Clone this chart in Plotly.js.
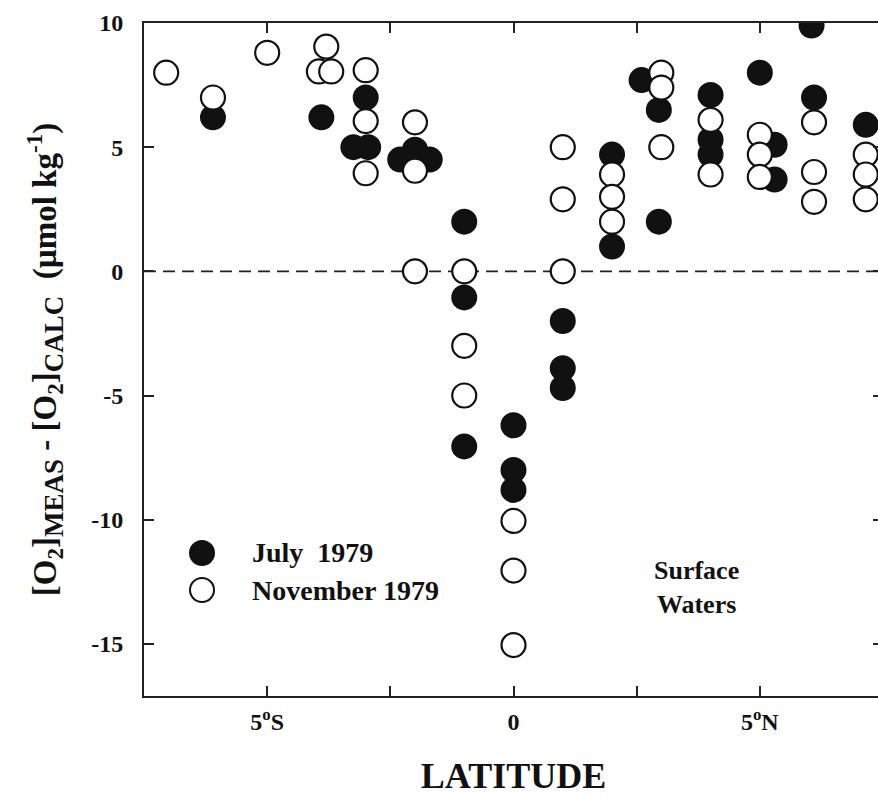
<!DOCTYPE html>
<html>
<head>
<meta charset="utf-8">
<script src="https://cdn.plot.ly/plotly-3.0.1.min.js"></script>
<style>
  html, body { margin: 0; padding: 0; background: #fff; overflow: hidden; }
  #chart { width: 886px; height: 797px; }
</style>
</head>
<body>
<div id="chart"></div>
<script>
// Surface-water oxygen anomaly across the equator, two cruises
const julyLat = [-6.1, -3.9, -3.0, -3.25, -2.95, -2.3, -2.0, -1.7, -1.0, -1.0, -1.0,
                 0, 0, 0, 1.0, 1.0, 1.0, 2.0, 2.0, 2.6, 2.95, 2.95,
                 4.0, 4.0, 4.0, 5.0, 5.3, 5.3, 6.05, 6.1, 7.15];
const julyO2  = [6.2, 6.2, 7.0, 5.0, 5.0, 4.5, 4.9, 4.5, 2.0, -1.05, -7.05,
                 -6.2, -8.0, -8.8, -2.0, -3.9, -4.7, 4.7, 1.0, 7.7, 6.5, 2.0,
                 7.1, 5.3, 4.7, 8.0, 5.1, 3.7, 9.9, 7.0, 5.9];

const novLat = [-7.05, -6.1, -5.0, -3.8, -3.95, -3.7, -3.0, -3.0, -3.0, -2.0, -2.0, -2.0,
                -1.0, -1.0, -1.0, 0, 0, 0, 1.0, 1.0, 1.0, 2.0, 2.0, 2.0,
                3.0, 3.0, 3.0, 4.0, 4.0, 5.0, 5.0, 5.0, 6.1, 6.1, 6.1, 7.15, 7.15, 7.15];
const novO2  = [8.0, 7.0, 8.8, 9.05, 8.05, 8.05, 8.1, 6.05, 3.95, 6.0, 4.05, 0,
                0, -3.0, -5.0, -10.05, -12.05, -15.05, 5.0, 2.9, 0, 3.9, 3.0, 2.0,
                8.0, 7.4, 5.0, 6.1, 3.9, 5.5, 4.7, 3.8, 6.0, 4.0, 2.8, 4.7, 3.9, 2.9];

const xTickVals = [-5, 0, 5];
const xTickText = ['5<sup>o</sup>S', '0', '5<sup>o</sup>N'];
const xMinorVals = [-2.5, 2.5];
const yTickVals = [-15, -10, -5, 0, 5, 10];
const yTickText = ['-15', '-10', '-5', '0', '5', '10'];

const seriesNames = ['July  1979', 'November 1979'];

const SERIF = '"Liberation Serif", "Times New Roman", Times, serif';
const INK = '#111';
const MARK = 24;

const traces = [
  {
    x: julyLat, y: julyO2, type: 'scatter', mode: 'markers', name: seriesNames[0],
    marker: { symbol: 'circle', size: MARK, color: INK, line: { color: INK, width: 2 } }
  },
  {
    x: novLat, y: novO2, type: 'scatter', mode: 'markers', name: seriesNames[1],
    marker: { symbol: 'circle', size: MARK, color: '#fff', line: { color: INK, width: 2.2 } }
  }
];

const axisCommon = {
  showgrid: false, zeroline: false,
  showline: true, linewidth: 2, linecolor: '#222',
  ticks: 'inside', ticklen: 10, tickwidth: 2, tickcolor: '#222',
  mirror: 'ticks',
  tickfont: { family: SERIF, size: 24, color: INK, weight: 700 }
};

// Key symbols placed in paper space with pixel sizing
const keyX = 0.0785, keyY = [0.2125, 0.1575], R = 12;
function keySymbol(yp, fill) {
  return {
    type: 'circle', xref: 'paper', yref: 'paper',
    xsizemode: 'pixel', ysizemode: 'pixel',
    xanchor: keyX, yanchor: yp,
    x0: -R, x1: R, y0: -R, y1: R,
    fillcolor: fill, line: { color: INK, width: 2 }
  };
}

const subBig = s => '<sub><span style="font-size:27px;font-weight:bold">' + s + '</span></sub>';
const yTitle = '[O<sub>2</sub>]' + subBig('MEAS') + ' - [O<sub>2</sub>]' + subBig('CALC') +
               '\u00a0\u00a0(\u00b5mol kg<sup>-1</sup>)\u00a0\u00a0';

const layout = {
  width: 886, height: 797,
  margin: { l: 144, r: 3, t: 23, b: 101 },
  paper_bgcolor: '#fff', plot_bgcolor: '#fff',
  showlegend: false,
  font: { family: SERIF, color: INK },
  xaxis: Object.assign({}, axisCommon, {
    range: [-7.5, 7.5],
    tickvals: xTickVals, ticktext: xTickText,
    minor: { tickvals: xMinorVals, ticks: 'inside', ticklen: 10, tickwidth: 2, tickcolor: '#222', showgrid: false },
    ticklabelstandoff: 3,
    title: { text: 'LATITUDE', font: { family: SERIF, size: 36, color: INK, weight: 700 }, standoff: 29 }
  }),
  yaxis: Object.assign({}, axisCommon, {
    range: [-17.1, 10],
    tickvals: yTickVals, ticktext: yTickText,
    ticklabelstandoff: 14,
    title: {
      text: yTitle,
      font: { family: SERIF, size: 33, color: INK, weight: 700 },
      standoff: 25
    }
  }),
  shapes: [
    {
      type: 'line', xref: 'paper', x0: 0, x1: 1, yref: 'y', y0: 0, y1: 0,
      layer: 'below', line: { color: '#222', width: 1.8, dash: '12px,7px' }
    },
    keySymbol(keyY[0], INK),
    keySymbol(keyY[1], '#fff')
  ],
  annotations: [
    { xref: 'paper', yref: 'paper', x: 0.1434, y: keyY[0], xanchor: 'left', yanchor: 'middle',
      showarrow: false, text: seriesNames[0], font: { family: SERIF, size: 28, color: INK, weight: 700 } },
    { xref: 'paper', yref: 'paper', x: 0.1434, y: keyY[1], xanchor: 'left', yanchor: 'middle',
      showarrow: false, text: seriesNames[1], font: { family: SERIF, size: 28, color: INK, weight: 700 } },
    { xref: 'paper', yref: 'paper', x: 0.748, y: 0.1605, xanchor: 'center', yanchor: 'middle',
      showarrow: false, text: 'Surface<br>Waters', align: 'center',
      font: { family: SERIF, size: 26, color: INK, weight: 700 } }
  ]
};

Plotly.newPlot('chart', traces, layout, { displayModeBar: false, staticPlot: true });
</script>
</body>
</html>
